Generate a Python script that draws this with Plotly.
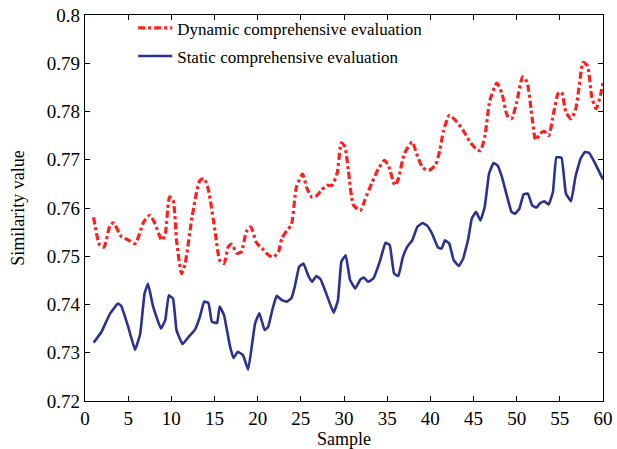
import plotly.graph_objects as go

# Dynamic comprehensive evaluation (red dashed)
dyn_x = [1.0, 1.7, 2.2, 2.9, 3.3, 4.2, 5.0, 5.8, 6.8, 7.5, 8.1, 8.9, 9.3, 9.8, 10.2, 10.6, 11.2, 11.6, 12.4,
         13.3, 13.8, 14.3, 15.1, 15.6, 16.1, 16.6, 17.0, 17.6, 18.1, 18.7, 19.2, 19.9, 20.7, 21.2, 21.8, 22.4,
         22.8, 23.4, 23.9, 24.5, 25.2, 25.7, 26.3, 26.8, 27.4, 28.0, 28.6, 29.2, 29.7, 30.1, 30.5, 31.1, 31.9,
         32.4, 33.2, 34.0, 34.7, 35.2, 35.9, 36.3, 37.0, 37.9, 38.4, 39.1, 39.8, 40.6, 41.1, 41.5, 42.2, 43.1,
         43.8, 44.6, 45.4, 45.8, 46.3, 46.9, 47.7, 48.3, 48.9, 49.4, 50.0, 50.7, 51.2, 51.8, 52.2, 52.7, 53.2,
         53.7, 54.3, 54.8, 55.2, 55.7, 56.3, 56.8, 57.2, 57.7, 58.2, 58.7, 59.2, 59.7, 60.0]
dyn_y = [0.7581, 0.7523, 0.7519, 0.7564, 0.7569, 0.7541, 0.7534, 0.7526, 0.7571, 0.7585, 0.7568, 0.7533,
         0.7547, 0.7623, 0.7616, 0.7533, 0.7464, 0.7485, 0.7581, 0.7657, 0.7661, 0.7637, 0.7547, 0.7492,
         0.7485, 0.7520, 0.7525, 0.7506, 0.7509, 0.7551, 0.7561, 0.7527, 0.7513, 0.7503, 0.7498, 0.7509,
         0.7537, 0.7554, 0.7565, 0.7644, 0.7670, 0.7641, 0.7622, 0.7625, 0.7637, 0.7647, 0.7647, 0.7672,
         0.7735, 0.7727, 0.7678, 0.7606, 0.7595, 0.7616, 0.7651, 0.7682, 0.7699, 0.7685, 0.7647, 0.7661,
         0.7713, 0.7737, 0.7713, 0.7684, 0.7678, 0.7689, 0.7720, 0.7758, 0.7792, 0.7778, 0.7761, 0.7737,
         0.7721, 0.7719, 0.7747, 0.7823, 0.7859, 0.7837, 0.7792, 0.7785, 0.7819, 0.7872, 0.7861, 0.7785,
         0.7741, 0.7754, 0.7759, 0.7750, 0.7799, 0.7837, 0.7840, 0.7799, 0.7785, 0.7802, 0.7847, 0.7902,
         0.7895, 0.7830, 0.7806, 0.7833, 0.7861]

# Static comprehensive evaluation (blue solid)
sta_x = [1.0, 1.9, 2.9, 3.8, 4.2, 5.0, 5.8, 6.4, 6.9, 7.3, 7.9, 8.8, 9.3, 9.7, 10.2, 10.6, 11.3, 12.0, 12.7,
         13.3, 13.8, 14.3, 14.7, 15.3, 15.6, 16.1, 16.8, 17.2, 17.7, 18.3, 18.9, 19.7, 20.2, 20.8, 21.2, 21.7,
         22.2, 22.8, 23.4, 23.9, 24.3, 24.8, 25.3, 25.9, 26.3, 26.8, 27.3, 28.0, 28.8, 29.3, 29.7, 30.2, 30.7,
         31.3, 31.9, 32.3, 32.8, 33.4, 34.2, 34.8, 35.3, 35.8, 36.3, 36.8, 37.3, 37.9, 38.5, 39.1, 39.6, 40.2,
         40.9, 41.3, 41.7, 42.2, 42.7, 43.3, 43.8, 44.4, 44.8, 45.3, 45.8, 46.3, 46.8, 47.3, 47.8, 48.3, 48.9,
         49.4, 49.8, 50.3, 50.8, 51.3, 51.8, 52.3, 52.7, 53.2, 53.7, 54.2, 54.6, 55.2, 55.7, 56.3, 56.8, 57.4,
         57.9, 58.4, 59.1, 60.0]
sta_y = [0.7321, 0.7343, 0.7381, 0.7402, 0.7397, 0.7354, 0.7306, 0.7340, 0.7423, 0.7443, 0.7395, 0.7350,
         0.7368, 0.7419, 0.7412, 0.7347, 0.7318, 0.7333, 0.7347, 0.7374, 0.7406, 0.7403, 0.7364, 0.7362,
         0.7396, 0.7378, 0.7313, 0.7289, 0.7302, 0.7295, 0.7265, 0.7361, 0.7382, 0.7347, 0.7353, 0.7389,
         0.7418, 0.7409, 0.7406, 0.7413, 0.7437, 0.7478, 0.7485, 0.7458, 0.7447, 0.7459, 0.7452, 0.7420,
         0.7383, 0.7409, 0.7489, 0.7502, 0.7451, 0.7433, 0.7452, 0.7456, 0.7447, 0.7454, 0.7492, 0.7528,
         0.7523, 0.7464, 0.7459, 0.7497, 0.7519, 0.7533, 0.7561, 0.7569, 0.7564, 0.7547, 0.7518, 0.7516,
         0.7533, 0.7526, 0.7492, 0.7480, 0.7495, 0.7537, 0.7578, 0.7592, 0.7574, 0.7602, 0.7671, 0.7693,
         0.7688, 0.7664, 0.7623, 0.7592, 0.7588, 0.7598, 0.7628, 0.7630, 0.7605, 0.7601, 0.7610, 0.7614,
         0.7607, 0.7633, 0.7705, 0.7704, 0.7630, 0.7614, 0.7664, 0.7702, 0.7716, 0.7714, 0.7692, 0.7659]

x_ticks = [0, 5, 10, 15, 20, 25, 30, 35, 40, 45, 50, 55, 60]
y_ticks = [0.72, 0.73, 0.74, 0.75, 0.76, 0.77, 0.78, 0.79, 0.80]
y_labels = ["0.72", "0.73", "0.74", "0.75", "0.76", "0.77", "0.78", "0.79", "0.8"]

FONT = "Liberation Serif, Times New Roman, serif"

fig = go.Figure()
fig.add_trace(go.Scatter(
    x=dyn_x, y=dyn_y, mode="lines", name="Dynamic comprehensive evaluation", legendgroup="d",
    line=dict(color="#ff1f1f", width=3.2, dash="7px,3px,3px,3px", shape="spline", smoothing=0.6)))
fig.add_trace(go.Scatter(
    x=sta_x, y=sta_y, mode="lines", name="Static comprehensive evaluation", legendgroup="s",
    line=dict(color="#2b3192", width=2.6, shape="spline", smoothing=0.3)))

axis_common = dict(showline=True, linecolor="black", linewidth=1.2, mirror="allticks",
                   ticks="inside", ticklen=5, tickcolor="black", showgrid=False, zeroline=False,
                   automargin=False,
                   tickfont=dict(family=FONT, size=19, color="black"))

fig.update_layout(
    width=617, height=449,
    margin=dict(l=85, r=14, t=15, b=48, autoexpand=False),
    paper_bgcolor="white", plot_bgcolor="white",
    font=dict(family=FONT, size=17, color="black"),
    xaxis=dict(range=[0, 60], tickvals=x_ticks, ticktext=[str(v) for v in x_ticks],
               title=dict(text="Sample", font=dict(family=FONT, size=18), standoff=0), **axis_common),
    yaxis=dict(range=[0.72, 0.8], tickvals=y_ticks, ticktext=y_labels,
               title=dict(text="Similarity value", font=dict(family=FONT, size=18), standoff=17), **axis_common),
    legend=dict(x=0.093, y=1.012, xanchor="left", yanchor="top", bgcolor="rgba(0,0,0,0)",
                font=dict(family=FONT, size=17), itemwidth=34, tracegroupgap=3),
    showlegend=True,
)

fig.write_html("out.html", config={"displayModeBar": False},
               post_script="document.body.style.margin='0';")
